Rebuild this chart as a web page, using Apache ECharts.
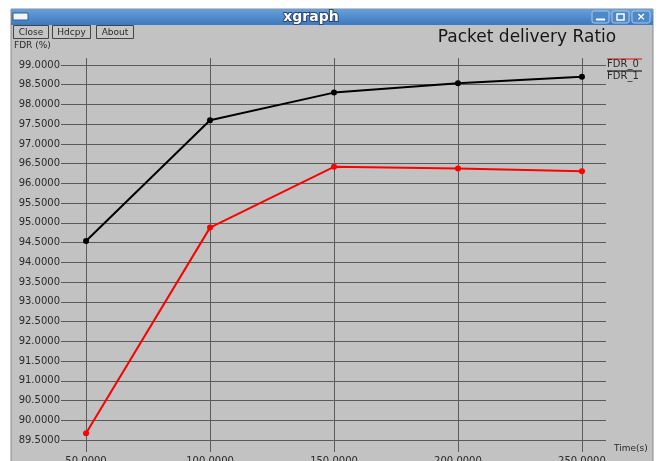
<!DOCTYPE html>
<html>
<head>
<meta charset="utf-8">
<script src="https://cdn.jsdelivr.net/npm/echarts@6/dist/echarts.min.js"></script>
<style>
html,body{margin:0;padding:0;background:#fff;}
#main{width:660px;height:461px;}
</style>
</head>
<body>
<div id="main"></div>
<script>
// values
var xTimes = [50, 100, 150, 200, 250];
var fdr0 = [89.67, 94.88, 96.42, 96.38, 96.31];
var fdr1 = [94.54, 97.60, 98.30, 98.54, 98.70];
var xTicks = [50, 100, 150, 200, 250];
var yTicks = [89.5, 90, 90.5, 91, 91.5, 92, 92.5, 93, 93.5, 94, 94.5, 95, 95.5, 96, 96.5, 97, 97.5, 98, 98.5, 99];

function pairs(xs, ys) {
    return xs.map(function (x, i) { return [x, ys[i]]; });
}

var myChart = echarts.init(document.getElementById('main'));

var gridColor = '#5a5a5a';
var txt = '#2a2a2a';
var font = 'DejaVu Sans';

var option = {
    backgroundColor: '#ffffff',
    animation: false,
    grid: {
        left: 61,
        right: 54,
        top: 58,
        bottom: 13,
        outerBoundsMode: 'none'
    },
    xAxis: {
        type: 'value',
        min: 39.9,
        max: 259.7,
        axisLine: {show: false},
        axisTick: {show: true, inside: false, length: 4, customValues: xTicks, lineStyle: {color: gridColor}},
        splitLine: {show: true, lineStyle: {color: gridColor, width: 1}},
        axisLabel: {
            customValues: xTicks,
            margin: 8,
            color: txt,
            fontFamily: font,
            fontSize: 10,
            formatter: function (v) { return v.toFixed(4); }
        }
    },
    yAxis: {
        type: 'value',
        min: 89.297,
        max: 99.177,
        axisLine: {show: false},
        axisTick: {show: false, customValues: yTicks},
        splitLine: {show: true, lineStyle: {color: gridColor, width: 1}},
        axisLabel: {
            customValues: yTicks,
            margin: 1,
            color: txt,
            fontFamily: font,
            fontSize: 10,
            formatter: function (v) { return v.toFixed(4); }
        }
    },
    graphic: [
        // window body
        {type: 'rect', z: -100, silent: true, shape: {x: 11, y: 9, width: 642, height: 460},
            style: {fill: '#c2c2c2', stroke: '#8a8a8a', lineWidth: 1}},
        // title bar
        {type: 'rect', z: -90, silent: true, shape: {x: 11, y: 9, width: 642, height: 16},
            style: {fill: new echarts.graphic.LinearGradient(0, 0, 0, 1, [
                {offset: 0, color: '#6aa0d8'}, {offset: 1, color: '#3b78c0'}])}},
        {type: 'rect', z: -80, silent: true, shape: {x: 13, y: 13, width: 15, height: 7},
            style: {fill: '#f4f4f4', stroke: '#2f5f98', lineWidth: 1}},
        {type: 'text', z: -80, silent: true, x: 311, y: 17,
            style: {text: 'xgraph', fill: '#ffffff', stroke: '#27456e', lineWidth: 2,
                font: 'bold 14px "DejaVu Sans"', align: 'center', verticalAlign: 'middle'}},
        {type: 'rect', z: -80, silent: true, shape: {x: 592, y: 11, width: 17, height: 12, r: 2},
            style: {fill: '#4d88c8', stroke: '#a8c8ec', lineWidth: 1}},
        {type: 'rect', z: -80, silent: true, shape: {x: 612, y: 11, width: 17, height: 12, r: 2},
            style: {fill: '#4d88c8', stroke: '#a8c8ec', lineWidth: 1}},
        {type: 'rect', z: -80, silent: true, shape: {x: 632, y: 11, width: 18, height: 12, r: 2},
            style: {fill: '#4d88c8', stroke: '#a8c8ec', lineWidth: 1}},
        {type: 'line', z: -70, silent: true, shape: {x1: 596, y1: 19.5, x2: 605, y2: 19.5},
            style: {stroke: '#ffffff', lineWidth: 2}},
        {type: 'rect', z: -70, silent: true, shape: {x: 617, y: 14, width: 7, height: 6},
            style: {fill: 'none', stroke: '#ffffff', lineWidth: 1.5}},
        {type: 'text', z: -70, silent: true, x: 641, y: 17,
            style: {text: '×', fill: '#ffffff', font: 'bold 11px "DejaVu Sans"', align: 'center', verticalAlign: 'middle'}},
        // xgraph buttons
        {type: 'rect', z: -80, silent: true, shape: {x: 13.5, y: 25.5, width: 35, height: 13},
            style: {fill: '#c6c6c6', stroke: '#444', lineWidth: 1}},
        {type: 'text', z: -70, silent: true, x: 31, y: 32.5,
            style: {text: 'Close', fill: txt, font: '9px "DejaVu Sans"', align: 'center', verticalAlign: 'middle'}},
        {type: 'rect', z: -80, silent: true, shape: {x: 52.5, y: 25.5, width: 38, height: 13},
            style: {fill: '#c6c6c6', stroke: '#444', lineWidth: 1}},
        {type: 'text', z: -70, silent: true, x: 71.5, y: 32.5,
            style: {text: 'Hdcpy', fill: txt, font: '9px "DejaVu Sans"', align: 'center', verticalAlign: 'middle'}},
        {type: 'rect', z: -80, silent: true, shape: {x: 96.5, y: 25.5, width: 37, height: 13},
            style: {fill: '#c6c6c6', stroke: '#444', lineWidth: 1}},
        {type: 'text', z: -70, silent: true, x: 115, y: 32.5,
            style: {text: 'About', fill: txt, font: '9px "DejaVu Sans"', align: 'center', verticalAlign: 'middle'}},
        // labels
        {type: 'text', z: -70, silent: true, x: 14, y: 46,
            style: {text: 'FDR (%)', fill: txt, font: '9px "DejaVu Sans"', verticalAlign: 'middle'}},
        {type: 'text', z: -70, silent: true, x: 527, y: 38,
            style: {text: 'Packet delivery Ratio', fill: '#161616', font: '17px "DejaVu Sans"', align: 'center', verticalAlign: 'middle'}},
        {type: 'text', z: -70, silent: true, x: 614, y: 449,
            style: {text: 'Time(s)', fill: txt, font: '9px "DejaVu Sans"', verticalAlign: 'middle'}},
        // legend
        {type: 'line', z: -70, silent: true, shape: {x1: 607, y1: 59, x2: 642, y2: 59},
            style: {stroke: '#ff0000', lineWidth: 1}},
        {type: 'text', z: -70, silent: true, x: 607, y: 64,
            style: {text: 'FDR_0', fill: txt, font: '10px "DejaVu Sans"', verticalAlign: 'middle'}},
        {type: 'line', z: -70, silent: true, shape: {x1: 607, y1: 71, x2: 642, y2: 71},
            style: {stroke: '#000000', lineWidth: 1}},
        {type: 'text', z: -70, silent: true, x: 607, y: 76,
            style: {text: 'FDR_1', fill: txt, font: '10px "DejaVu Sans"', verticalAlign: 'middle'}}
    ],
    series: [
        {
            name: 'FDR_0',
            type: 'line',
            data: pairs(xTimes, fdr0),
            symbol: 'circle',
            symbolSize: 6,
            itemStyle: {color: '#ff0000'},
            lineStyle: {color: '#ff0000', width: 2}
        },
        {
            name: 'FDR_1',
            type: 'line',
            data: pairs(xTimes, fdr1),
            symbol: 'circle',
            symbolSize: 6,
            itemStyle: {color: '#000000'},
            lineStyle: {color: '#000000', width: 2}
        }
    ]
};

myChart.setOption(option);
</script>
</body>
</html>
